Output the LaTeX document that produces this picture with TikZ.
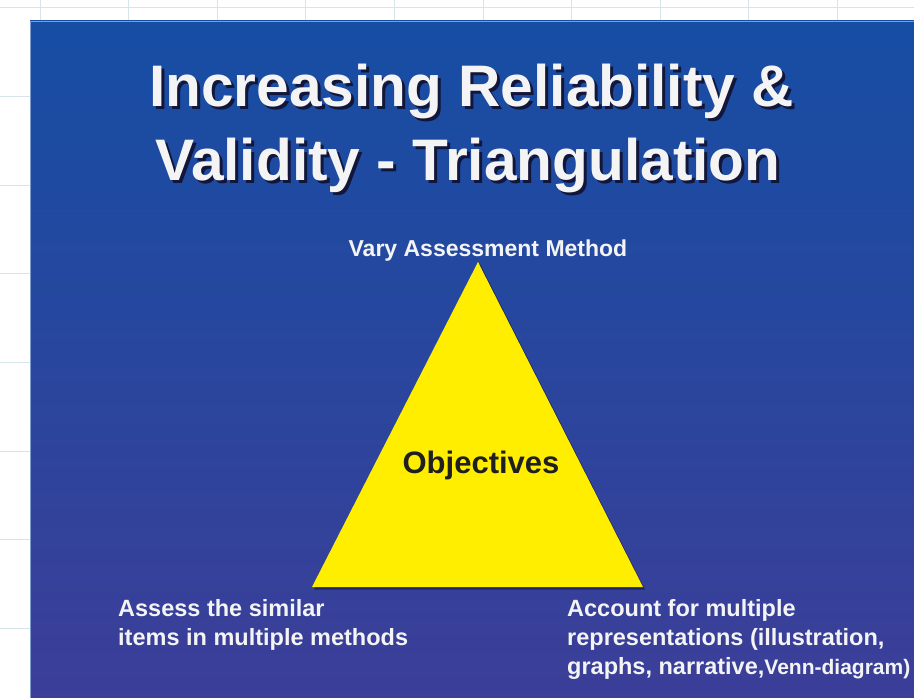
\documentclass[tikz,border=0pt]{standalone}
\usepackage{fontspec}
\setmainfont{Liberation Sans}
\usetikzlibrary{positioning}

\definecolor{slidetop}{RGB}{22,78,164}
\definecolor{slidebottom}{RGB}{60,62,152}
\definecolor{gridline}{RGB}{214,228,236}
\definecolor{shadowblue}{RGB}{18,22,58}
\definecolor{triyellow}{RGB}{255,238,0}
\definecolor{offwhite}{RGB}{244,244,244}

\newcommand{\dropshadow}[1]{\rlap{\kern3pt\raisebox{-3pt}{\color{shadowblue}#1}}#1}

\tikzstyle{title}=[font=\bfseries\fontsize{58.6}{70}\selectfont,
    text=offwhite,
    anchor=base west,
    inner sep=0pt]
\tikzstyle{corner}=[font=\bfseries\fontsize{23.5}{29}\selectfont,
    text=offwhite,
    align=left,
    anchor=north west,
    inner sep=0pt]
\tikzstyle{apexlabel}=[font=\bfseries\fontsize{23}{28}\selectfont,
    text=offwhite,
    anchor=base,
    inner sep=0pt]
\tikzstyle{centre}=[font=\bfseries\fontsize{31}{36}\selectfont,
    text=black!88,
    anchor=base,
    inner sep=0pt]

\begin{document}
\begin{tikzpicture}[x=1pt,y=-1pt]
            \useasboundingbox (0,0) rectangle (914,698);
            \fill[white] (0,0) rectangle (914,698);
            \foreach \i in {0,...,9}
                \draw[gridline, line width=1pt] ({40+88.6*\i},0) -- ({40+88.6*\i},698);
            \foreach \i in {0,...,7}
                \draw[gridline, line width=1pt] (0,{8+88.6*\i}) -- (914,{8+88.6*\i});

            \shade[top color=slidetop, bottom color=slidebottom] (30,21) rectangle (914,698);
            \draw[slidetop!55!white, line width=0.8pt] (30,698) -- (30,21) -- (914,21);

            \node (title1) [title] at (149,107) {\dropshadow{Increasing Reliability \&}};
            \node (title2) [title] at (155,181) {\dropshadow{Validity - Triangulation}};

            \coordinate (apex) at (478,262);
            \coordinate (left) at (312,587);
            \coordinate (right) at (643,587);
            \fill[shadowblue, opacity=0.6] (480,264) -- (314,589.5) -- (645,589.5) -- cycle;
            \fill[triyellow] (apex) -- (left) -- (right) -- cycle;

            \node (method) [apexlabel] at (488,257) {Vary Assessment Method};
            \node (objectives) [centre] at (481,473) {Objectives};
            \node (similar) [corner] at (118,599) {Assess the similar\\items in multiple methods};
            \node (represent) [corner] at (567,599) {Account for multiple\\representations (illustration,\\graphs, narrative,{\fontsize{21}{29}\selectfont Venn-diagram)}};
        \end{tikzpicture}
\end{document}
